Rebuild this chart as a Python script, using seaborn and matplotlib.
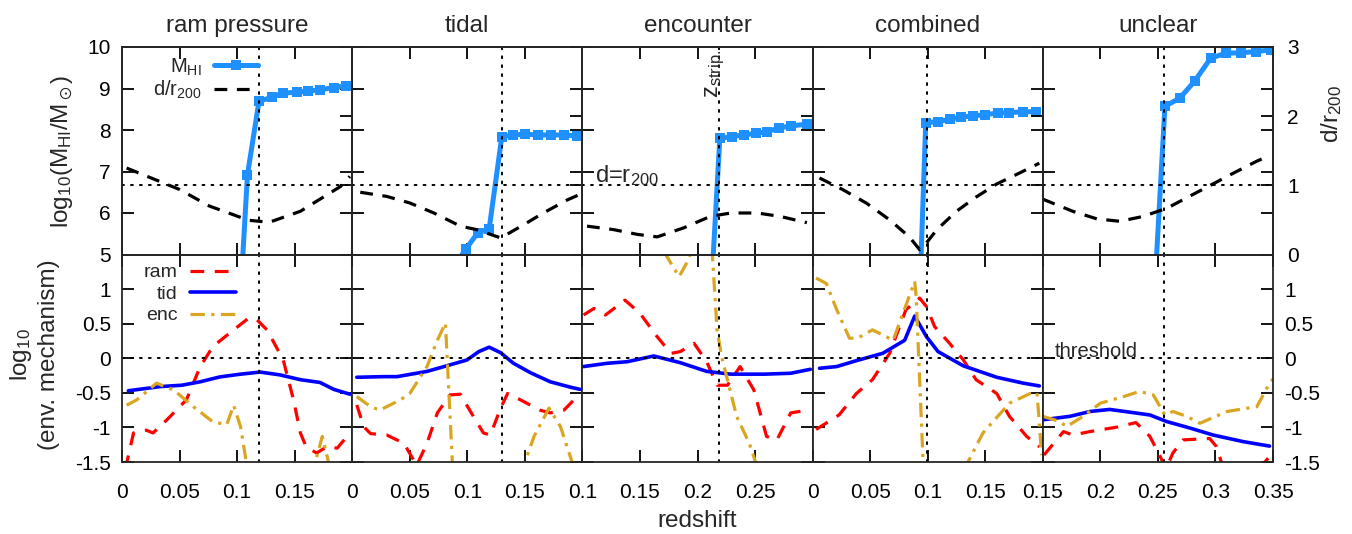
import matplotlib
matplotlib.use("Agg")
import matplotlib.pyplot as plt
import seaborn as sns

# ---- data ----
titles = ["ram pressure", "tidal", "encounter", "combined", "unclear"]
z_strip = [0.119, 0.130, 0.219, 0.099, 0.2555]

# HI mass (log10 M_HI / Msun), top row, left axis
hi_z_1 = [0.099, 0.109, 0.119, 0.130, 0.140, 0.152, 0.162, 0.172, 0.184, 0.195]
hi_1 = [2.1, 6.92, 8.69, 8.79, 8.89, 8.91, 8.94, 8.97, 9.02, 9.07]
hi_z_2 = [0.088, 0.099, 0.109, 0.119, 0.130, 0.140, 0.150, 0.161, 0.173, 0.184, 0.195]
hi_2 = [4.7, 5.14, 5.52, 5.62, 7.84, 7.88, 7.90, 7.88, 7.88, 7.88, 7.86]
hi_z_3 = [0.209, 0.2194, 0.230, 0.240, 0.2504, 0.2606, 0.271, 0.2815, 0.295]
hi_3 = [2.7, 7.80, 7.84, 7.88, 7.92, 7.96, 8.05, 8.10, 8.14]
hi_z_4 = [0.088, 0.0983, 0.109, 0.119, 0.129, 0.139, 0.150, 0.161, 0.171, 0.183, 0.194]
hi_4 = [0.0, 8.18, 8.20, 8.26, 8.31, 8.34, 8.37, 8.41, 8.42, 8.44, 8.44]
hi_z_5 = [0.243, 0.2561, 0.2691, 0.282, 0.2958, 0.309, 0.322, 0.335, 0.348]
hi_5 = [2.07, 8.57, 8.77, 9.18, 9.73, 9.85, 9.86, 9.89, 9.93]

# distance d/r200, top row, right axis
d_z_1 = [0.004, 0.05, 0.076, 0.11, 0.128, 0.155, 0.19, 0.198]
d_1 = [1.25, 0.94, 0.70, 0.495, 0.466, 0.625, 0.985, 1.13]
d_z_2 = [0.007, 0.030, 0.050, 0.071, 0.094, 0.108, 0.129, 0.149, 0.166, 0.187, 0.198]
d_2 = [0.90, 0.84, 0.745, 0.60, 0.41, 0.36, 0.24, 0.43, 0.60, 0.79, 0.87]
d_z_3 = [0.104, 0.127, 0.148, 0.165, 0.188, 0.211, 0.229, 0.252, 0.272, 0.295]
d_3 = [0.41, 0.36, 0.29, 0.255, 0.385, 0.55, 0.60, 0.60, 0.55, 0.46]
d_z_4 = [0.006, 0.026, 0.047, 0.067, 0.084, 0.093, 0.099, 0.108, 0.125, 0.142, 0.160, 0.180, 0.197]
d_4 = [1.106, 0.94, 0.74, 0.50, 0.255, 0.07, 0.17, 0.36, 0.625, 0.83, 1.02, 1.18, 1.32]
d_z_5 = [0.150, 0.176, 0.197, 0.217, 0.237, 0.258, 0.275, 0.295, 0.316, 0.336, 0.343]
d_5 = [0.80, 0.625, 0.515, 0.48, 0.55, 0.67, 0.82, 0.995, 1.18, 1.35, 1.40]

# log10 of environmental mechanisms, bottom row
tid_z_1 = [0.0055, 0.033, 0.052, 0.068, 0.085, 0.103, 0.12, 0.137, 0.155, 0.172, 0.184, 0.198]
tid_1 = [-0.47, -0.41, -0.39, -0.34, -0.27, -0.23, -0.20, -0.24, -0.31, -0.35, -0.45, -0.52]
ram_z_1 = [0.003, 0.01, 0.021, 0.027, 0.039, 0.056, 0.068, 0.079, 0.097, 0.11, 0.117,
           0.126, 0.14, 0.149, 0.155, 0.16, 0.169, 0.178, 0.187, 0.198]
ram_1 = [-1.6, -1.08, -1.04, -1.08, -0.89, -0.60, -0.12, 0.17, 0.41, 0.58, 0.56,
         0.41, -0.02, -0.60, -1.08, -1.28, -1.37, -1.28, -1.30, -1.08]
enc_z_1 = [0.004, 0.013, 0.030, 0.045, 0.062, 0.079, 0.091, 0.097, 0.103, 0.108, 0.115,
           0.160, 0.168, 0.174, 0.179, 0.185, 0.198]
enc_1 = [-0.68, -0.60, -0.36, -0.46, -0.70, -0.92, -0.96, -0.68, -0.99, -1.5, -2.2,
         -2.2, -1.5, -1.13, -1.47, -2.2, -2.2]

tid_z_2 = [0.004, 0.027, 0.039, 0.065, 0.082, 0.0997, 0.11, 0.119, 0.129, 0.14, 0.155, 0.172, 0.19, 0.198]
tid_2 = [-0.275, -0.266, -0.266, -0.19, -0.11, -0.025, 0.096, 0.16, 0.08, -0.072, -0.21, -0.34, -0.42, -0.45]
ram_z_2 = [0.004, 0.01, 0.016, 0.03, 0.045, 0.056, 0.065, 0.074, 0.085, 0.094, 0.102,
           0.114, 0.12, 0.129, 0.135, 0.146, 0.163, 0.172, 0.184, 0.198]
ram_2 = [-0.675, -0.99, -1.09, -1.11, -1.23, -1.55, -1.23, -0.79, -0.53, -0.52, -0.75,
         -1.08, -1.11, -0.72, -0.51, -0.60, -0.75, -0.79, -0.75, -0.51]
enc_z_2 = [0.004, 0.016, 0.024, 0.042, 0.05, 0.065, 0.074, 0.081, 0.087, 0.092,
           0.145, 0.15, 0.158, 0.171, 0.181, 0.191, 0.198]
enc_2 = [-0.555, -0.70, -0.75, -0.60, -0.51, -0.12, 0.26, 0.51, -1.5, -2.2,
         -2.2, -1.5, -1.13, -0.72, -0.99, -1.5, -2.0]

tid_z_3 = [0.101, 0.1215, 0.139, 0.162, 0.185, 0.208, 0.229, 0.258, 0.281, 0.298]
tid_3 = [-0.12, -0.073, -0.05, 0.033, -0.064, -0.19, -0.23, -0.23, -0.217, -0.16]
ram_z_3 = [0.101, 0.11, 0.12, 0.137, 0.15, 0.165, 0.177, 0.185, 0.197, 0.208, 0.217,
           0.226, 0.237, 0.249, 0.26, 0.269, 0.281, 0.296]
ram_3 = [0.625, 0.72, 0.625, 0.84, 0.65, 0.31, 0.07, 0.096, 0.216, -0.05, -0.39,
         -0.39, -0.12, -0.46, -1.13, -1.18, -0.79, -0.75]
enc_z_3 = [0.1, 0.165, 0.184, 0.192, 0.2, 0.211, 0.217, 0.221, 0.226, 0.234, 0.245, 0.2504, 0.256, 0.3]
enc_3 = [2.0, 1.7, 1.18, 1.42, 1.8, 2.0, 0.41, 0.02, -0.31, -0.84, -1.23, -1.5, -2.0, -2.0]

tid_z_4 = [0.006, 0.021, 0.038, 0.061, 0.08, 0.0887, 0.099, 0.109, 0.131, 0.16, 0.183, 0.197]
tid_4 = [-0.145, -0.12, -0.035, 0.072, 0.26, 0.61, 0.31, 0.096, -0.11, -0.275, -0.36, -0.40]
ram_z_4 = [0.003, 0.023, 0.038, 0.052, 0.067, 0.081, 0.093, 0.099, 0.106, 0.119, 0.131,
           0.142, 0.16, 0.171, 0.186, 0.197]
ram_4 = [-1.03, -0.82, -0.51, -0.31, 0.072, 0.70, 0.87, 0.745, 0.457, 0.216, -0.025,
         -0.31, -0.51, -0.84, -1.13, -1.28]
enc_z_4 = [0.003, 0.012, 0.021, 0.032, 0.039, 0.052, 0.07, 0.0785, 0.0887, 0.090, 0.093,
           0.096, 0.1, 0.13, 0.135, 0.148, 0.171, 0.189, 0.195, 0.199]
enc_4 = [1.16, 1.08, 0.70, 0.29, 0.29, 0.41, 0.26, 0.65, 1.11, 0.89, -0.31,
         -1.5, -2.2, -2.2, -1.5, -1.08, -0.65, -0.51, -0.5, -1.4]

tid_z_5 = [0.15, 0.1735, 0.191, 0.208, 0.2285, 0.243, 0.2576, 0.278, 0.298, 0.324, 0.347]
tid_5 = [-0.89, -0.84, -0.77, -0.74, -0.786, -0.82, -0.915, -1.01, -1.11, -1.205, -1.27]
ram_z_5 = [0.151, 0.168, 0.176, 0.191, 0.214, 0.231, 0.243, 0.252, 0.257, 0.263, 0.272,
           0.284, 0.295, 0.301, 0.306, 0.312, 0.338, 0.343, 0.349]
ram_5 = [-1.40, -1.06, -1.11, -1.06, -0.997, -0.93, -1.13, -1.42, -1.6, -1.37, -1.18,
         -1.17, -1.16, -1.28, -1.55, -2.0, -2.0, -1.5, -1.38]
enc_z_5 = [0.15, 0.165, 0.1706, 0.185, 0.2, 0.22, 0.234, 0.246, 0.256, 0.263, 0.275,
           0.2865, 0.31, 0.336, 0.347, 0.35]
enc_5 = [-0.84, -0.915, -0.99, -0.84, -0.65, -0.555, -0.48, -0.53, -0.82, -0.77, -0.84,
         -0.94, -0.77, -0.70, -0.36, -0.30]

hi_z = [hi_z_1, hi_z_2, hi_z_3, hi_z_4, hi_z_5]
hi = [hi_1, hi_2, hi_3, hi_4, hi_5]
d_z = [d_z_1, d_z_2, d_z_3, d_z_4, d_z_5]
d = [d_1, d_2, d_3, d_4, d_5]
tid_z = [tid_z_1, tid_z_2, tid_z_3, tid_z_4, tid_z_5]
tid = [tid_1, tid_2, tid_3, tid_4, tid_5]
ram_z = [ram_z_1, ram_z_2, ram_z_3, ram_z_4, ram_z_5]
ram = [ram_1, ram_2, ram_3, ram_4, ram_5]
enc_z = [enc_z_1, enc_z_2, enc_z_3, enc_z_4, enc_z_5]
enc = [enc_1, enc_2, enc_3, enc_4, enc_5]

xlims = [(0, 0.2), (0, 0.2), (0.1, 0.3), (0, 0.2), (0.15, 0.35)]
xtick_sets = [[0, 0.05, 0.1, 0.15], [0, 0.05, 0.1, 0.15], [0.1, 0.15, 0.2, 0.25],
              [0, 0.05, 0.1, 0.15], [0.15, 0.2, 0.25, 0.3, 0.35]]
xtick_labels = [["0", "0.05", "0.1", "0.15"], ["0", "0.05", "0.1", "0.15"],
                ["0.1", "0.15", "0.2", "0.25"], ["0", "0.05", "0.1", "0.15"],
                ["0.15", "0.2", "0.25", "0.3", "0.35"]]
hi_ticks = [5, 6, 7, 8, 9, 10]
d_ticks = [0, 1, 2, 3]
env_ticks = [-1.5, -1, -0.5, 0, 0.5, 1, 1.5]
env_labels = ["-1.5", "-1", "-0.5", "0", "0.5", "1", ""]

# ---- style ----
sns.set_theme(style="ticks")
plt.rcParams["font.family"] = ["Liberation Sans", "DejaVu Sans"]
plt.rcParams["mathtext.fontset"] = "custom"
plt.rcParams["mathtext.rm"] = "Liberation Sans"
plt.rcParams["mathtext.it"] = "Liberation Sans:italic"
plt.rcParams["mathtext.default"] = "regular"
plt.rcParams["axes.linewidth"] = 1.3

c_hi = "#1e90ff"
c_tid = "#0000ff"
c_ram = "#ff0000"
c_enc = "#daa520"
dotted = (0, (1, 3.6))
dot_kw = dict(color="black", lw=1.4, ls=dotted, dash_capstyle="round")

fig, axes = plt.subplots(2, 5, figsize=(13.52, 5.34), dpi=100)
plt.subplots_adjust(left=122 / 1352, right=1273 / 1352, top=1 - 47 / 534,
                    bottom=1 - 462 / 534, wspace=0, hspace=0)

tick_kw = dict(direction="in", length=8.6, width=1.3, labelsize=15, colors="black")

for j in range(5):
    ax = axes[0][j]
    axb = axes[1][j]
    ax2 = ax.twinx()

    # top row: HI mass + distance
    sns.lineplot(x=hi_z[j], y=hi[j], ax=ax, color=c_hi, linewidth=3.6, marker="s",
                 markersize=7.5, markeredgewidth=0, estimator=None, sort=False, errorbar=None)
    hi_line = ax.lines[-1]
    sns.lineplot(x=d_z[j], y=d[j], ax=ax2, color="black", linewidth=2.3,
                 linestyle=(0, (4, 3)), estimator=None, sort=False, errorbar=None)
    d_line = ax2.lines[-1]
    ax.axvline(z_strip[j], **dot_kw)
    ax2.axhline(1, **dot_kw)

    ax.set_xlim(*xlims[j])
    ax.set_ylim(5, 10)
    ax2.set_ylim(0, 3)
    ax.set_yticks(hi_ticks)
    ax2.set_yticks(d_ticks)
    ax.set_xticks(xtick_sets[j])
    ax.tick_params(axis="both", which="both", top=True, bottom=True, left=True, right=True,
                   labelbottom=False, labelleft=(j == 0), pad=8, **tick_kw)
    ax2.tick_params(axis="y", right=True, labelright=(j == 4), pad=10, **tick_kw)
    ax.set_xlabel("")
    ax.set_ylabel("")
    ax2.set_ylabel("")
    ax.set_title(titles[j], fontsize=17.5, pad=11)

    # bottom row: environmental mechanisms
    sns.lineplot(x=ram_z[j], y=ram[j], ax=axb, color=c_ram, linewidth=2.3,
                 linestyle=(0, (4.3, 3.3)), estimator=None, sort=False, errorbar=None)
    ram_line = axb.lines[-1]
    sns.lineplot(x=tid_z[j], y=tid[j], ax=axb, color=c_tid, linewidth=2.6,
                 estimator=None, sort=False, errorbar=None)
    tid_line = axb.lines[-1]
    sns.lineplot(x=enc_z[j], y=enc[j], ax=axb, color=c_enc, linewidth=2.3,
                 linestyle=(0, (4.5, 2, 1, 2)), estimator=None, sort=False, errorbar=None)
    enc_line = axb.lines[-1]
    axb.axvline(z_strip[j], **dot_kw)
    axb.axhline(0, **dot_kw)

    axb.set_xlim(*xlims[j])
    axb.set_ylim(-1.5, 1.5)
    axb.set_yticks(env_ticks)
    axb.set_yticklabels(env_labels)
    axb.set_xticks(xtick_sets[j])
    axb.set_xticklabels(xtick_labels[j])
    axb.tick_params(axis="both", which="both", top=True, bottom=True, left=True, right=True,
                    labelleft=(j == 0), labelright=(j == 4), **tick_kw)
    axb.tick_params(axis="x", pad=15)
    axb.tick_params(axis="y", pad=8)
    axb.set_xlabel("")
    axb.set_ylabel("")

    if j == 0:
        ax2.legend(handles=[hi_line, d_line], labels=["M$_{HI}$", "d/r$_{200}$"],
                   loc="upper right", bbox_to_anchor=(0.591, 0.955), frameon=False,
                   markerfirst=False, fontsize=14.5, handlelength=2.2, handletextpad=0.6,
                   labelspacing=0.05, borderpad=0, borderaxespad=0, numpoints=1)
        axb.legend(handles=[ram_line, tid_line, enc_line], labels=["ram", "tid", "enc"],
                   loc="upper right", bbox_to_anchor=(0.496, 0.955), frameon=False,
                   markerfirst=False, fontsize=14, handlelength=2.4, handletextpad=0.6,
                   labelspacing=0.2, borderpad=0, borderaxespad=0)
    if j == 2:
        ax.text(0.2155, 9.93, "z$_{strip.}$", rotation=90, ha="center", va="top", fontsize=17)
        ax2.text(0.111, 1.05, "d=r$_{200}$", fontsize=17, va="baseline")
    if j == 4:
        axb.text(0.1604, 0.02, "threshold", fontsize=14.5, va="baseline")

fig.text(62 / 1352, 1 - 151 / 534, r"log$_{10}$(M$_{HI}$/M$_\odot$)", rotation=90,
         ha="center", va="center", fontsize=17.5)
fig.text(34 / 1352, 1 - 355 / 534, "log$_{10}$\n(env. mechanism)", rotation=90,
         ha="center", va="center", multialignment="center", fontsize=17.5)
fig.text(1332 / 1352, 1 - 114 / 534, "d/r$_{200}$", rotation=90,
         ha="center", va="center", fontsize=17.5)
fig.text(697.5 / 1352, 1 - 521 / 534, "redshift", ha="center", va="center", fontsize=17.5)

fig.savefig("out.png", dpi=100)
